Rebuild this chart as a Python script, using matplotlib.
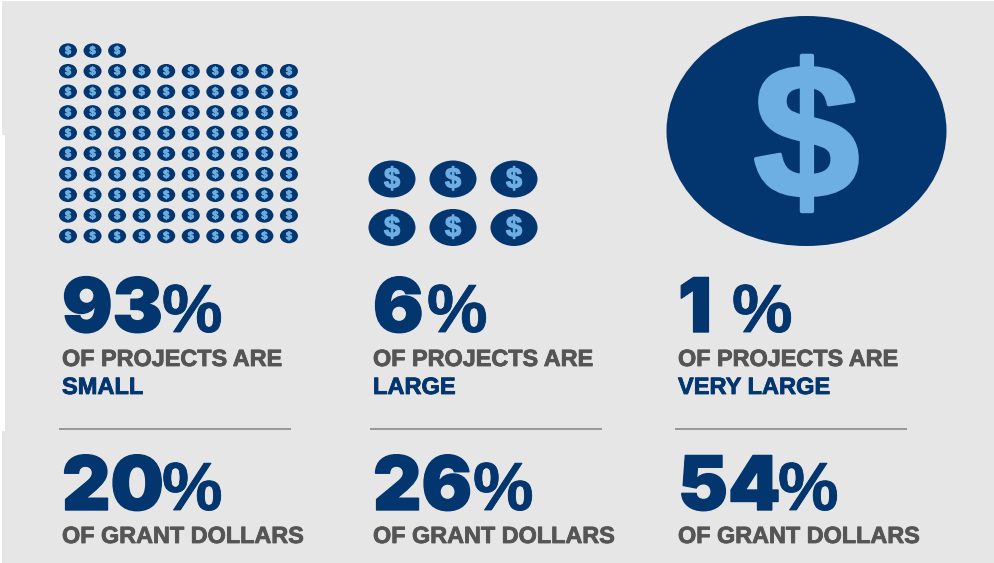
import matplotlib
matplotlib.use("Agg")
import matplotlib.pyplot as plt
import matplotlib.patheffects as pe
from matplotlib.patches import Ellipse, Rectangle

plt.rcParams['font.family'] = ['Liberation Sans', 'DejaVu Sans']

# Data
project_shares = [93, 6, 1]
dollar_shares = [20, 26, 54]
size_labels = ["SMALL", "LARGE", "VERY LARGE"]
coins_per_row = [10, 3, 1]
projects_line = "OF PROJECTS ARE"
dollars_line = "OF GRANT DOLLARS"

NAVY = "#03366f"
LIGHT = "#6dafe2"
GREY = "#555555"
BG = "#e6e6e6"

W, H = 994, 563
fig = plt.figure(figsize=(W / 100, H / 100), dpi=100, facecolor="white")
ax = fig.add_axes([0, 0, 1, 1])
ax.set_xlim(0, W)
ax.set_ylim(H, 0)
ax.axis("off")

ax.add_patch(Rectangle((5, 1), W - 5, 430, fc=BG, ec="none", zorder=0))
ax.add_patch(Rectangle((2, 1), W - 2, 134, fc=BG, ec="none", zorder=0))
ax.add_patch(Rectangle((2, 431), W - 2, H - 431, fc=BG, ec="none", zorder=0))


def coin(cx, cy, w, h, fs, stroke, dy=0):
    ax.add_patch(Ellipse((cx, cy), w, h, fc=NAVY, ec="none", zorder=2))
    ax.text(cx, cy + dy, "$", color=LIGHT, fontsize=fs, fontweight="bold",
            ha="center", va="center", zorder=3,
            path_effects=[pe.withStroke(linewidth=stroke, foreground=LIGHT)])


def big_number(x, y, value):
    digits = str(value)
    ax.text(x, y, digits, color=NAVY, fontsize=54, family="Inter", fontweight=900,
            ha="left", va="baseline",
            path_effects=[pe.withStroke(linewidth=1.0, foreground=NAVY)])
    gap = 50 * len(digits) + (4 if len(digits) == 1 else 0)
    ax.text(x + gap, y, "%", color=NAVY, fontsize=49, fontweight="bold",
            ha="left", va="baseline",
            path_effects=[pe.withStroke(linewidth=0.6, foreground=NAVY)])


# Column geometry (layout only)
col_text_x = [62, 373, 678]
rule_x = [(59, 291), (370, 602), (675, 907)]

n_small = project_shares[0]
per_row = coins_per_row[0]
for k in range(n_small):
    row = k // per_row
    col = k % per_row
    coin(68 + 24.55 * col, 236 - 20.6 * row, 18, 14.5, 8, 0.5, dy=0.5)

n_large = project_shares[1]
per_row = coins_per_row[1]
for k in range(n_large):
    row = k // per_row
    col = k % per_row
    coin(392 + 61 * col, 227.5 - 48.5 * row, 47, 37, 21, 0.8, dy=1)

for k in range(project_shares[2]):
    coin(806.5, 131, 280, 230, 137, 3.0, dy=17)

label_stroke = 0.6
for i in range(3):
    x = col_text_x[i]
    big_number(x, 332, project_shares[i])
    ax.text(x, 366, projects_line, color=GREY, fontsize=16.85, fontweight="bold",
            ha="left", va="baseline",
            path_effects=[pe.withStroke(linewidth=label_stroke, foreground=GREY)])
    ax.text(x, 394, size_labels[i], color=NAVY, fontsize=17.0, fontweight="bold",
            ha="left", va="baseline",
            path_effects=[pe.withStroke(linewidth=label_stroke, foreground=NAVY)])
    ax.plot(rule_x[i], [428.5, 428.5], color="#8a8a8a", lw=1.2, solid_capstyle="butt")
    big_number(x, 510, dollar_shares[i])
    ax.text(x, 543, dollars_line, color=GREY, fontsize=16.85, fontweight="bold",
            ha="left", va="baseline",
            path_effects=[pe.withStroke(linewidth=label_stroke, foreground=GREY)])

fig.savefig("out.png", dpi=100, facecolor="white")
